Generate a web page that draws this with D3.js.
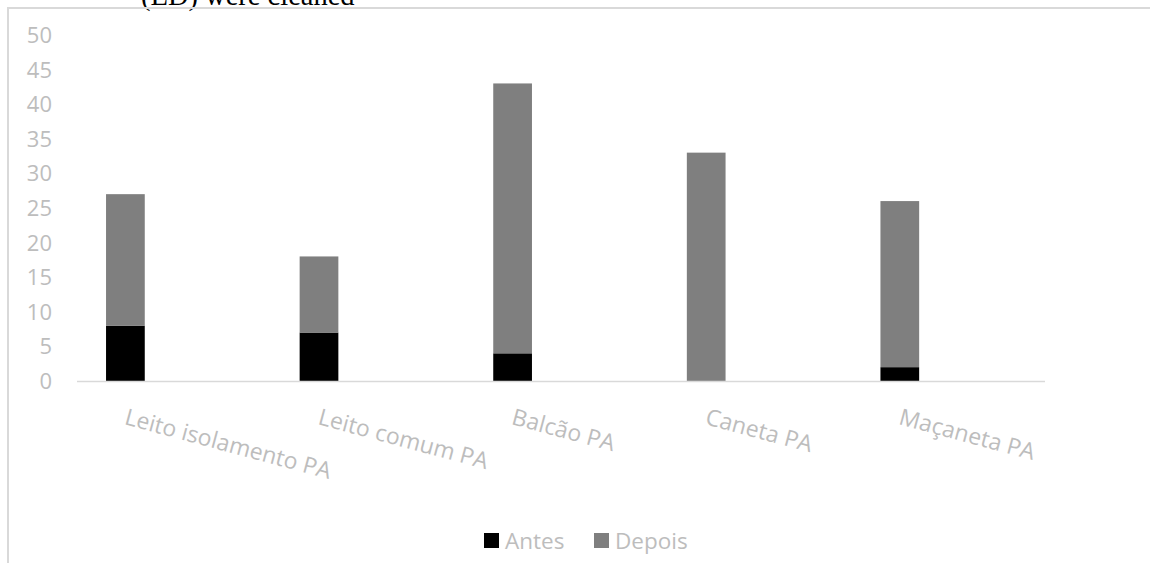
<!DOCTYPE html>
<html><head><meta charset="utf-8">
<script src="https://cdn.jsdelivr.net/npm/d3@7"></script>
<style>body{margin:0;background:#fff;}svg{display:block;}</style>
</head><body>
<svg id="c" width="1150" height="563"></svg>
<script>
const categories = ["Leito isolamento PA","Leito comum PA","Balcão PA","Caneta PA","Maçaneta PA"];
const antes = [8, 7, 4, 0, 2];
const depois = [19, 11, 39, 33, 24];
const seriesNames = ["Antes","Depois"];
const seriesColors = ["#000000","#7f7f7f"];
const yTicks = [0,5,10,15,20,25,30,35,40,45,50];

(function(){
const svg = d3.select("#c");
const font = "'Open Sans', Lato, sans-serif";
const grey = "#bdbdbd";

// caption fragment at top (cropped in the source picture)
svg.append("text").attr("x",141).attr("y",5).attr("font-family","'Liberation Serif', 'Times New Roman', serif")
  .attr("font-size",28.5).attr("fill","#000").text("(ED) were cleaned");

// chart frame
svg.append("rect").attr("x",8).attr("y",8).attr("width",1200).attr("height",600)
  .attr("fill","none").attr("stroke","#d9d9d9").attr("stroke-width",2);

const pLeft = 77, pRight = 1045, pTop = 35, pBottom = 381;
const x = d3.scaleBand().domain(categories).range([pLeft,pRight]);
const y = d3.scaleLinear().domain([0,50]).range([pBottom,pTop]);

const rows = categories.map((c,i)=>({cat:c, Antes:antes[i], Depois:depois[i]}));
const stack = d3.stack().keys(seriesNames)(rows);

const bw = x.bandwidth();
const barX = c => x(c) + bw*0.15;
const barW = bw*0.2;

// y tick labels
svg.append("g").selectAll("text").data(yTicks).join("text")
  .attr("x",52).attr("y",d=>y(d)).attr("dy","0.36em").attr("text-anchor","end")
  .attr("font-family",font).attr("font-size",22).attr("fill",grey).text(d=>d);

// bars
svg.append("g").selectAll("g").data(stack).join("g")
  .attr("fill",(d,i)=>seriesColors[i])
  .selectAll("rect").data(d=>d).join("rect")
  .attr("x",d=>barX(d.data.cat)).attr("width",barW)
  .attr("y",d=>y(d[1])).attr("height",d=>y(d[0])-y(d[1]));

// x axis line
svg.append("line").attr("x1",pLeft).attr("x2",pRight).attr("y1",pBottom+0.5).attr("y2",pBottom+0.5)
  .attr("stroke","#d9d9d9").attr("stroke-width",1.5);

// category labels
svg.append("g").selectAll("text").data(categories).join("text")
  .attr("transform",d=>`translate(${barX(d)+barW/2-2},${pBottom+43}) rotate(15)`)
  .attr("text-anchor","start").attr("font-family",font)
  .attr("font-size",23).attr("fill",grey).text(d=>d);

// legend
const lg = svg.append("g");
const legX = [484, 594];
seriesNames.forEach((n,i)=>{
  lg.append("rect").attr("x",legX[i]).attr("y",533).attr("width",15).attr("height",15).attr("fill",seriesColors[i]);
  lg.append("text").attr("x",legX[i]+21).attr("y",548.5).attr("font-family",font)
    .attr("font-size",22.5).attr("fill",grey).text(n);
});
})();
</script>
</body></html>
